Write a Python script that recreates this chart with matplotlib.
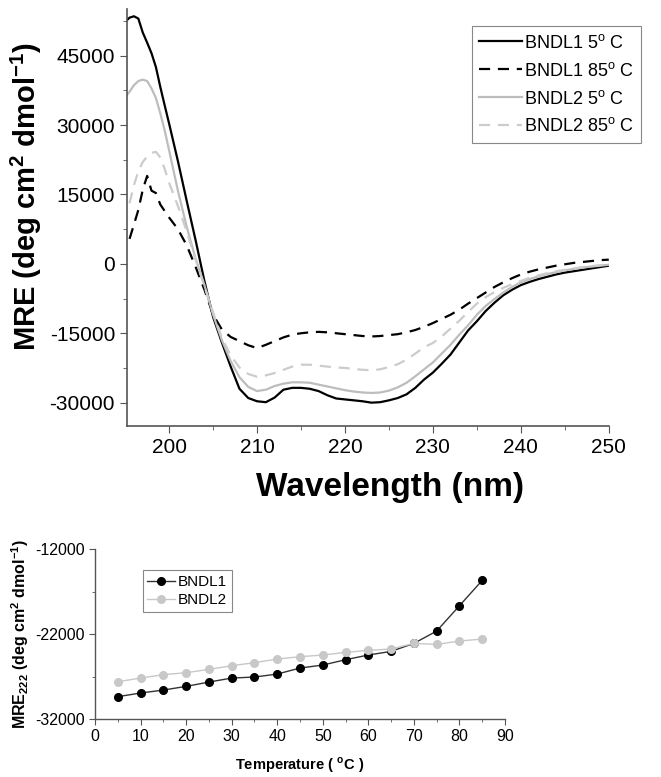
import matplotlib
matplotlib.use('Agg')
import matplotlib.pyplot as plt
import numpy as np

plt.rcParams['font.family'] = ['Liberation Sans', 'DejaVu Sans']
plt.rcParams['mathtext.fontset'] = 'custom'
plt.rcParams['mathtext.rm'] = 'Liberation Sans'
plt.rcParams['mathtext.bf'] = 'Liberation Sans:bold'
plt.rcParams['axes.unicode_minus'] = False

# CD spectra
wavelength = [195, 195.5, 196, 196.5, 197, 197.5, 198, 198.5, 199, 199.5,
              200, 201, 202, 203, 204, 205, 206, 207, 208, 209,
              210, 211, 212, 213, 214, 215, 216, 217, 218, 219,
              220, 221, 222, 223, 224, 225, 226, 227, 228, 229,
              230, 231, 232, 233, 234, 235, 236, 237, 238, 239,
              240, 241, 242, 243, 244, 245, 246, 247, 248, 249, 250]

bndl1_5 = [52300, 53200, 53500, 53000, 50000, 47800, 45500, 42500, 38200, 34200,
           30300, 22200, 13600, 5200, -3600, -11500, -17000, -22200, -27000, -29000,
           -29700, -29900, -28900, -27200, -26800, -26800, -27000, -27500, -28400, -29100,
           -29300, -29500, -29700, -30000, -29900, -29500, -29000, -28200, -26800, -25000,
           -23500, -21600, -19600, -17000, -14400, -12400, -10200, -8400, -6800, -5600,
           -4600, -3900, -3300, -2800, -2300, -1900, -1600, -1300, -1000, -700, -400]

bndl1_85 = [np.nan, 5400, 8500, 11650, 16000, 19000, 15800, 15300, 12800, 11400,
            10000, 7500, 4000, -600, -5500, -11000, -14200, -15800, -16700, -17600,
            -18200, -17500, -16700, -15900, -15300, -15000, -14800, -14700, -14800, -15000,
            -15200, -15400, -15600, -15700, -15600, -15400, -15200, -14800, -14300, -13600,
            -12800, -11900, -11000, -9900, -8600, -7400, -6200, -5000, -4000, -3100,
            -2300, -1700, -1200, -800, -400, -100, 200, 400, 600, 800, 900]

bndl2_5 = [36000, 37200, 38600, 39500, 39800, 39500, 37900, 35800, 32500, 28800,
           24500, 15800, 8000, 1200, -4500, -11000, -16500, -21000, -24500, -26600,
           -27500, -27200, -26400, -25900, -25600, -25600, -25700, -26100, -26500, -26900,
           -27300, -27600, -27800, -27900, -27800, -27400, -26700, -25700, -24300, -22800,
           -21300, -19400, -17500, -15300, -13300, -11000, -9100, -7600, -6200, -5000,
           -4000, -3300, -2700, -2200, -1800, -1400, -1100, -800, -600, -400, -200]

bndl2_85 = [np.nan, 13100, 17000, 20000, 22000, 23200, 24000, 24200, 23000, 20500,
            17500, 12500, 7000, 1000, -4800, -10500, -16000, -19800, -22400, -23800,
            -24400, -24100, -23600, -22900, -22200, -21800, -21800, -22000, -22200, -22400,
            -22500, -22700, -22900, -23000, -22800, -22300, -21700, -20700, -19400, -18000,
            -17100, -15700, -14000, -12300, -10400, -8600, -7200, -6100, -5200, -4400,
            -3700, -3000, -2500, -2000, -1600, -1300, -1000, -700, -500, -300, -100]

# thermal melt at 222 nm
temperature = [5, 10, 15, 20, 25, 30, 35, 40, 45, 50, 55, 60, 65, 70, 75, 80, 85]
mre222_bndl1 = [-29370, -28940, -28590, -28160, -27650, -27180, -27060, -26710, -26000,
                -25650, -25020, -24470, -24040, -23100, -21650, -18670, -15690]
mre222_bndl2 = [-27610, -27180, -26780, -26550, -26160, -25730, -25370, -24940, -24670,
                -24470, -24160, -23920, -23760, -23100, -23220, -22820, -22590]

spine_col = '#555555'

fig = plt.figure(figsize=(6.61, 7.77), dpi=100)

# --- top panel ---
ax1 = fig.add_axes([0.192, 0.452, 0.729, 0.536])
ax1.plot(wavelength, bndl1_5, color='black', lw=1.6, label='BNDL1 5$^{\\rm o}$ C')
ax1.plot(wavelength, bndl1_85, color='black', lw=1.6, dashes=(5, 3.5), label='BNDL1 85$^{\\rm o}$ C')
ax1.plot(wavelength, bndl2_5, color='#bdbdbd', lw=1.6, label='BNDL2 5$^{\\rm o}$ C')
ax1.plot(wavelength, bndl2_85, color='#cccccc', lw=1.6, dashes=(5, 3.5), label='BNDL2 85$^{\\rm o}$ C')

ax1.set_xlim(195.2, 250)
ax1.set_ylim(-35000, 55000)
ax1.set_xticks([200, 210, 220, 230, 240, 250])
ax1.set_xticks(np.arange(205, 250, 10), minor=True)
ax1.set_yticks([-30000, -15000, 0, 15000, 30000, 45000])
ax1.set_yticks([-22500, -7500, 7500, 22500, 37500, 52500], minor=True)
ax1.tick_params(which='both', direction='out', labelsize=15, color=spine_col)
ax1.tick_params(which='major', length=5)
ax1.tick_params(which='minor', length=3)
for s in ['top', 'right']:
    ax1.spines[s].set_visible(False)
for s in ['left', 'bottom']:
    ax1.spines[s].set_color(spine_col)
    ax1.spines[s].set_linewidth(1.2)

ax1.set_xlabel('Wavelength (nm)', fontsize=24, fontweight='bold')
ax1.set_ylabel('MRE (deg cm$^{\\mathbf{2}}$ dmol$^{\\mathbf{-1}}$)', fontsize=21, fontweight='bold')
ax1.yaxis.set_label_coords(-0.172, 0.55)
ax1.xaxis.set_label_coords(0.545, -0.11)

leg1 = ax1.legend(loc='upper right', bbox_to_anchor=(0.97, 0.966), bbox_transform=fig.transFigure,
                  fontsize=13, handlelength=2.4, handletextpad=0.1, labelspacing=0.55,
                  borderpad=0.4, fancybox=False, framealpha=1, edgecolor='#888888', borderaxespad=0)
leg1.get_frame().set_linewidth(0.8)

# --- bottom panel ---
ax2 = fig.add_axes([0.1437, 0.0746, 0.6203, 0.2188])
ax2.plot(temperature, mre222_bndl1, color='#333333', lw=1.0, marker='o', ms=5.5,
         mfc='black', mec='black', label='BNDL1')
ax2.plot(temperature, mre222_bndl2, color='#c8c8c8', lw=1.0, marker='o', ms=5.5,
         mfc='#c8c8c8', mec='#c8c8c8', label='BNDL2')

ax2.set_xlim(0, 90)
ax2.set_ylim(-32000, -12000)
ax2.set_xticks(np.arange(0, 91, 10))
ax2.set_xticks(np.arange(5, 90, 10), minor=True)
ax2.set_yticks([-32000, -22000, -12000])
ax2.set_yticks([-27000, -17000], minor=True)
ax2.tick_params(which='both', direction='out', labelsize=11.5, color=spine_col)
ax2.tick_params(which='major', length=4)
ax2.tick_params(which='minor', length=2.5)
for s in ['top', 'right']:
    ax2.spines[s].set_visible(False)
for s in ['left', 'bottom']:
    ax2.spines[s].set_color(spine_col)
    ax2.spines[s].set_linewidth(1.0)

ax2.set_xlabel('Temperature ( $^{\\mathbf{o}}$C )', fontsize=10.5, fontweight='bold')
ax2.set_ylabel('MRE$_{\\mathbf{222}}$ (deg cm$^{\\mathbf{2}}$ dmol$^{\\mathbf{-1}}$)',
               fontsize=11.5, fontweight='bold')
ax2.yaxis.set_label_coords(-0.155, 0.5)
ax2.xaxis.set_label_coords(0.5, -0.215)

leg2 = ax2.legend(loc='upper left', bbox_to_anchor=(0.216, 0.266), bbox_transform=fig.transFigure,
                  fontsize=11, handlelength=1.8, handletextpad=0.2, labelspacing=0.3,
                  borderpad=0.3, fancybox=False, framealpha=1, edgecolor='#888888', borderaxespad=0)
leg2.get_frame().set_linewidth(0.8)

fig.savefig('out.png', dpi=100)
